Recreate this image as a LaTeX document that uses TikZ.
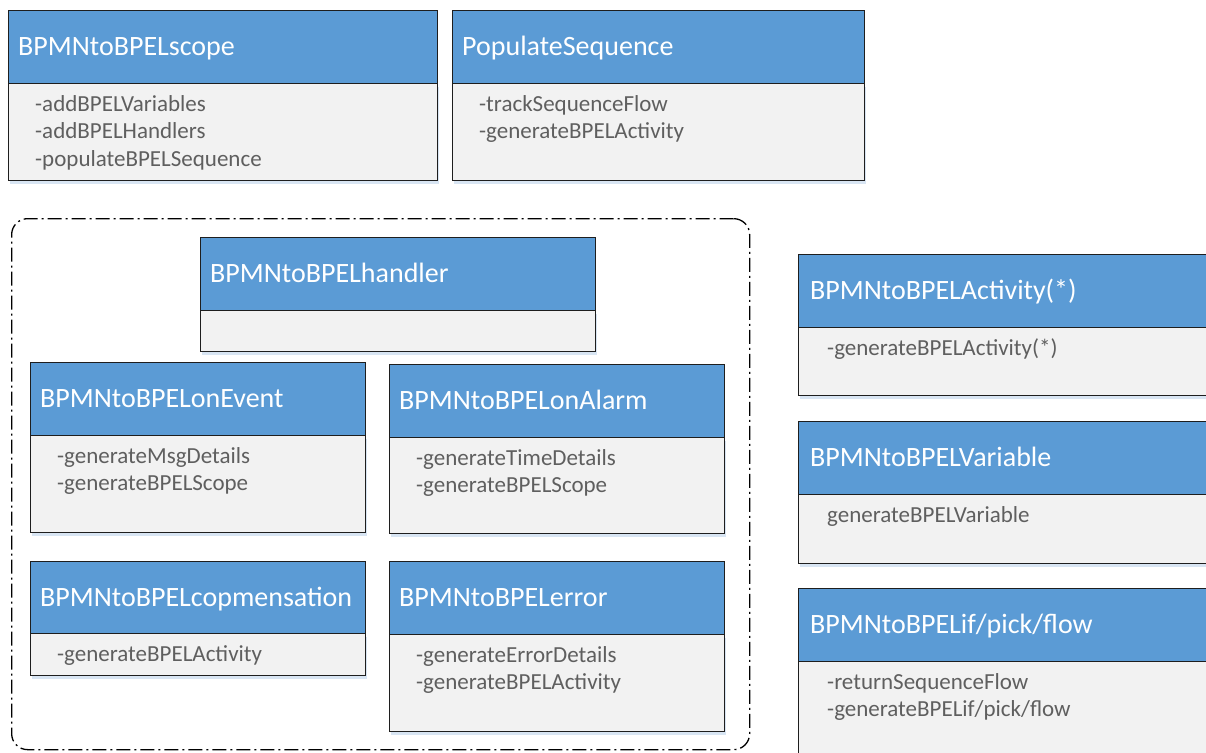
\documentclass[tikz,border=0pt]{standalone}
\usepackage{fontspec}
\setmainfont{Carlito}
\usetikzlibrary{shadows}
\definecolor{hdrblue}{RGB}{91,155,213}
\definecolor{bodygray}{RGB}{242,242,242}
\definecolor{txtgray}{RGB}{95,95,95}
\definecolor{linec}{RGB}{30,30,30}
\definecolor{shadowc}{RGB}{200,218,238}
\tikzset{
  hdrbox/.style={draw=linec, fill=hdrblue, line width=1.2pt, inner sep=0pt},
  bodybox/.style={draw=linec, fill=bodygray, line width=1.2pt, inner sep=0pt,
    drop shadow={shadow xshift=1.5pt, shadow yshift=-3.5pt, fill=shadowc, opacity=0.7}},
  titletext/.style={text=white, font=\fontsize{28}{33}\selectfont, inner sep=0pt, anchor=base west},
  bodytext/.style={text=txtgray, font=\fontsize{23}{27.5}\selectfont, inner sep=0pt, anchor=base west},
  framebox/.style={draw=black, line width=1.3pt, rounded corners=16pt, inner sep=0pt,
    dash pattern=on 14pt off 4pt on 2pt off 4pt}
}
% #1 name, #2 x1, #3 y1, #4 x2, #5 y header bottom, #6 y2, #7 title, #8 body lines, #9 title inset
\newcommand{\umlclass}[9]{%
  \node[bodybox, anchor=north west, minimum width={(#4-#2)*1pt}, minimum height={(#6-#5)*1pt}] (#1b) at (#2,#5) {};
  \node[hdrbox, anchor=north west, minimum width={(#4-#2)*1pt}, minimum height={(#5-#3)*1pt}] (#1h) at (#2,#3) {};
  \node[titletext] (#1t) at (#2+#9,#3+45.5) {#7};
  \node[bodytext] (#1x) at (#2+#9+17,#5+28) {\begin{tabular}[t]{@{}l@{}}#8\end{tabular}};
}
\begin{document}
\begin{tikzpicture}[x=1pt,y=-1pt]
\clip (0,0) rectangle (1206,752);
\fill[white] (0,0) rectangle (1206,752);
% dashed frame around handlers
\node[framebox, anchor=north west, minimum width=738pt, minimum height=531pt] (handlers) at (11,218) {};
% top row
\umlclass{scope}{8}{10}{437}{83}{180}{BPMNtoBPELscope}{-addBPELVariables\\-addBPELHandlers\\-populateBPELSequence}{10}
\umlclass{popseq}{452}{10}{864}{83}{180}{PopulateSequence}{-trackSequenceFlow\\-generateBPELActivity}{10}
% handler group
\umlclass{handler}{200}{237}{595}{310}{351}{BPMNtoBPELhandler}{}{10}
\umlclass{onevent}{30}{362}{365}{435}{532}{BPMNtoBPELonEvent}{-generateMsgDetails\\-generateBPELScope}{10}
\umlclass{onalarm}{389}{364}{724}{437}{533}{BPMNtoBPELonAlarm}{-generateTimeDetails\\-generateBPELScope}{10}
\umlclass{comp}{30}{561}{365}{633}{675}{BPMNtoBPELcopmensation}{-generateBPELActivity}{10}
\umlclass{error}{389}{561}{724}{634}{731}{BPMNtoBPELerror}{-generateErrorDetails\\-generateBPELActivity}{10}
% right column (cut at the picture edge)
\umlclass{activity}{798}{254}{1240}{327}{395}{BPMNtoBPELActivity(*)}{-generateBPELActivity(*)}{12}
\umlclass{variable}{798}{421}{1240}{494}{563}{BPMNtoBPELVariable}{generateBPELVariable}{12}
\umlclass{ifpick}{798}{588}{1240}{661}{800}{BPMNtoBPELif/pick/flow}{-returnSequenceFlow\\-generateBPELif/pick/flow}{12}
\end{tikzpicture}
\end{document}
